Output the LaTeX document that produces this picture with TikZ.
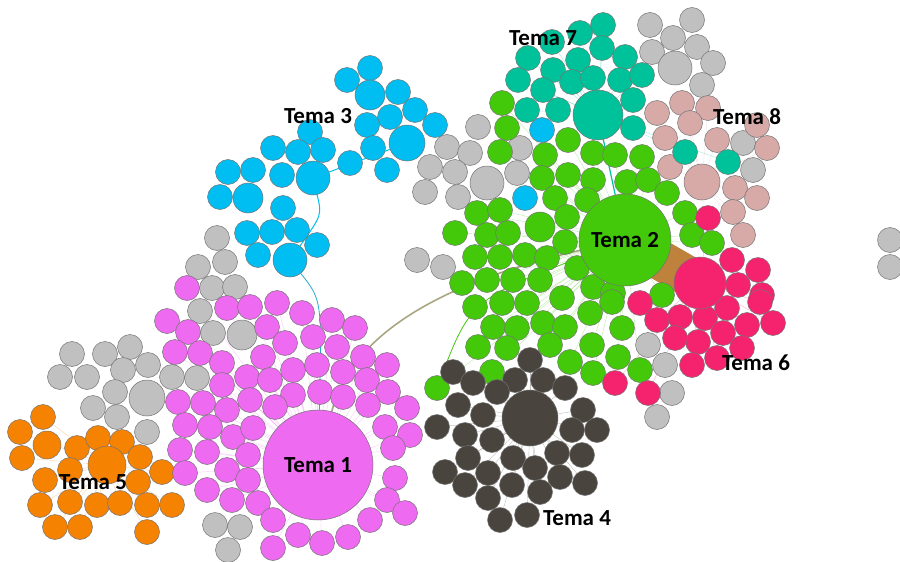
\documentclass[tikz,border=0pt]{standalone}
\usepackage{fontspec}
\setmainfont{Carlito}
\usetikzlibrary{backgrounds}

\definecolor{pk}{RGB}{238,106,240}
\definecolor{gr}{RGB}{68,200,10}
\definecolor{bl}{RGB}{0,190,242}
\definecolor{tl}{RGB}{0,194,154}
\definecolor{rs}{RGB}{215,170,168}
\definecolor{gy}{RGB}{192,192,192}
\definecolor{og}{RGB}{245,130,0}
\definecolor{cr}{RGB}{245,35,110}
\definecolor{dk}{RGB}{74,68,62}
\definecolor{tn}{RGB}{190,130,60}
\definecolor{ol}{RGB}{170,165,130}

\tikzset{
  nd/.style={draw=black!55,line width=0.5pt},
  hub/.style={circle,draw=black!55,line width=0.5pt,inner sep=0pt},
  lbl/.style={font=\fontsize{23}{23}\selectfont\bfseries,inner sep=0pt},
  spoke/.style={line width=0.4pt,opacity=0.35},
}

% cluster members (pixel positions)
\def\pinkpts{187/288,167/321,188/332,227/308,250/307,277/303,302/313,332/320,355/328,267/327,285/343,313/337,337/347,363/357,387/365,175/352,200/353,222/363,263/357,293/370,317/365,343/372,367/380,388/392,407/408,222/385,247/377,270/380,293/395,320/392,343/397,368/405,178/402,203/403,227/410,250/400,275/407,185/425,210/427,233/437,253/428,385/427,410/435,180/450,207/452,248/455,393/448,185/473,227/470,248/480,395/478,207/490,232/500,258/503,387/500,405/513,273/520,370/520,298/535,322/543,348/537,273/548}
\def\graypts{212/288,235/287,200/311,213/333,72/354,105/354,130/347,60/377,87/377,123/370,148/365,115/392,93/408,117/417,172/377,197/378,147/432,215/525,240/527,228/550,217/238,198/267,225/262,478/127,447/147,470/153,520/148,430/167,455/172,517/173,425/192,458/197,417/260,443/267,650/25,692/20,673/38,697/47,652/52,713/63,702/85,743/143,753/170,648/345,665/365,672/393,657/417,890/240,890/267}
\def\orangepts{43/417,20/432,22/458,77/448,98/438,122/442,140/457,162/472,70/470,45/480,138/482,40/505,70/502,97/505,120/503,147/505,172/505,55/527,80/527,147/532}
\def\bluepts{347/80,370/68,398/92,390/117,415/110,435/125,367/125,373/148,387/170,350/163,310/132,273/148,298/152,323/150,282/175,228/172,253/170,220/197,283/208,247/233,272/232,297/230,317/245,258/255,542/130,525/198}
\def\tealpts{603/25,580/33,552/42,528/58,602/48,578/60,625/57,553/70,572/82,593/78,620/80,642/75,518/80,543/90,633/100,527/110,558/110,633/128,685/152,728/162}
\def\rosepts{682/103,708/108,657/113,690/123,757/125,665/138,717/140,767/148,670/167,735/188,757/198,733/212,743/235}
\def\greenpts{502/103,507/128,500/152,568/140,545/155,593/153,615/155,642/157,568/175,542/178,593/180,627/182,648/180,667/193,555/198,587/200,685/213,477/213,500/210,567/217,692/235,712/243,455/233,487/235,508/233,565/242,475/257,500/257,525/255,547/258,577/268,462/283,487/280,513/280,540/280,593/287,613/293,662/295,562/298,612/302,475/307,502/303,527/303,590/313,493/327,517/328,543/323,565/327,622/328,478/347,507/348,550/345,592/345,618/357,570/362,492/372,593/373,640/370,437/388}
\def\crimsonpts{708/218,732/260,758/270,738/285,762/295,640/303,657/320,680/317,705/318,727/308,760/302,773/323,747/325,723/333,698/342,675/338,742/348,717/358,692/365,615/383,648/393}
\def\darkpts{453/372,530/360,473/383,515/380,543/380,565/388,497/392,458/405,483/415,583/410,437/427,465/435,492/440,572/430,597/430,468/458,513/458,557/453,582/455,445/472,488/473,535/468,560/477,465/485,512/485,540/492,585/483,488/498,500/520,527/515}

\begin{document}
\begin{tikzpicture}[x=1pt,y=-1pt]
\useasboundingbox (0,0) rectangle (900,562);

% small circles
\foreach \x/\y in \graypts \draw[nd,fill=gy] (\x,\y) circle (12.5pt);
\draw[nd,fill=gy] (242,335) circle (15pt) (147,398) circle (18pt)
  (487,183) circle (17pt) (675,68) circle (17pt);
\foreach \x/\y in \orangepts \draw[nd,fill=og] (\x,\y) circle (12.5pt);
\draw[nd,fill=og] (47,445) circle (14pt);
\foreach \x/\y in \pinkpts \draw[nd,fill=pk] (\x,\y) circle (12.5pt);
\foreach \x/\y in \bluepts \draw[nd,fill=bl] (\x,\y) circle (12.5pt);
\draw[nd,fill=bl] (370,95) circle (15pt) (248,198) circle (15pt);
\foreach \x/\y in \rosepts \draw[nd,fill=rs] (\x,\y) circle (12.5pt);
\foreach \x/\y in \tealpts \draw[nd,fill=tl] (\x,\y) circle (12.5pt);
\foreach \x/\y in \greenpts \draw[nd,fill=gr] (\x,\y) circle (12.5pt);
\draw[nd,fill=gr] (540,227) circle (15pt);
\foreach \x/\y in \crimsonpts \draw[nd,fill=cr] (\x,\y) circle (12.5pt);
\foreach \x/\y in \darkpts \draw[nd,fill=dk] (\x,\y) circle (12.5pt);

% hubs
\node[hub,fill=pk,minimum size=110pt,lbl] (t1) at (318,465) {Tema 1};
\node[hub,fill=gr,minimum size=92pt,lbl] (t2) at (625,240) {Tema 2};
\node[hub,fill=bl,minimum size=34pt] (b1) at (313,178) {};
\node[hub,fill=bl,minimum size=34pt] (b2) at (290,260) {};
\node[hub,fill=bl,minimum size=36pt] (b3) at (407,143) {};
\node[hub,fill=dk,minimum size=56pt] (t4) at (530,418) {};
\node[hub,fill=og,minimum size=38pt] (t5) at (107,465) {};
\node[hub,fill=cr,minimum size=52pt] (t6) at (700,283) {};
\node[hub,fill=tl,minimum size=50pt] (t7) at (598,115) {};
\node[hub,fill=rs,minimum size=36pt] (t8) at (702,182) {};

% labels
\node[lbl] (l3) at (318,116) {Tema 3};
\node[lbl] (l4) at (577,518) {Tema 4};
\node[lbl] (l5) at (93,482) {Tema 5};
\node[lbl] (l6) at (756,363) {Tema 6};
\node[lbl] (l7) at (543,38) {Tema 7};
\node[lbl] (l8) at (747,117) {Tema 8};

% links behind the circles
\begin{scope}[on background layer]
\draw[tn,line width=40pt] (t2.center) -- (t6.center);
\draw[ol,line width=1.6pt] (t1) .. controls (350,340) and (430,285) .. (t2);
\draw[bl,line width=1pt] (b1) .. controls (322,215) .. (b2);
\draw[bl!70!gray,line width=0.8pt] (b2) .. controls (322,300) .. (t1);
\draw[bl,line width=1pt] (b1) -- (b3);
\draw[tl,line width=1.2pt] (t7) -- (t2);
\draw[gr,line width=0.8pt] (t2) .. controls (470,300) .. (437,388);
\foreach \x/\y in \pinkpts \draw[spoke,pk] (t1.center) -- (\x,\y);
\foreach \x/\y in \greenpts \draw[spoke,gr] (t2.center) -- (\x,\y);
\foreach \x/\y in \darkpts \draw[spoke,dk] (t4.center) -- (\x,\y);
\foreach \x/\y in \orangepts \draw[spoke,og] (t5.center) -- (\x,\y);
\foreach \x/\y in \crimsonpts \draw[spoke,cr] (t6.center) -- (\x,\y);
\foreach \x/\y in \tealpts \draw[spoke,tl] (t7.center) -- (\x,\y);
\foreach \x/\y in \rosepts \draw[spoke,rs] (t8.center) -- (\x,\y);
\end{scope}
\end{tikzpicture}
\end{document}
